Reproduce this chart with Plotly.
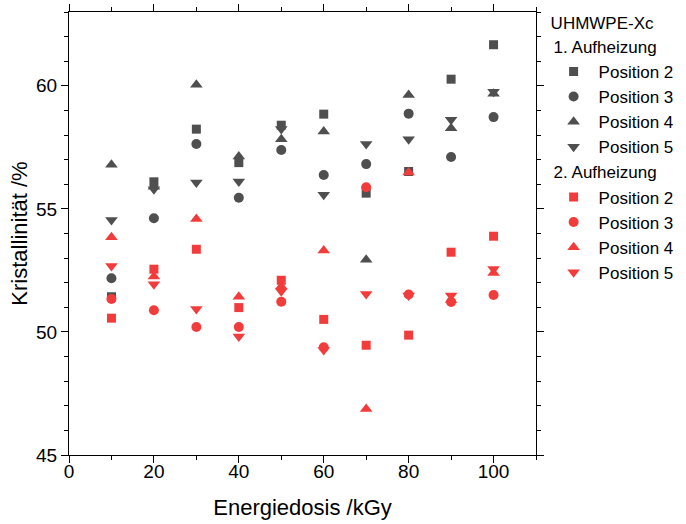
import plotly.graph_objects as go

dose = [10, 20, 30, 40, 50, 60, 70, 80, 90, 100]

# 1. Aufheizung
h1_pos2 = [51.43, 56.10, 58.24, 56.88, 58.40, 58.85, 55.64, 56.52, 60.27, 61.67]
h1_pos3 = [52.18, 54.62, 57.64, 55.45, 57.39, 56.38, 56.82, 58.87, 57.11, 58.73]
h1_pos4 = [56.79, 55.90, 60.04, 57.13, 57.83, 58.14, 52.93, 59.63, 58.28, 59.68]
h1_pos5 = [54.55, 55.80, 56.07, 56.11, 58.25, 55.57, 57.64, 57.83, 58.62, 59.76]

# 2. Aufheizung
h2_pos2 = [50.56, 52.55, 53.36, 50.99, 52.10, 50.51, 49.46, 49.87, 53.24, 53.89]
h2_pos3 = [51.34, 50.88, 50.20, 50.20, 51.23, 49.38, 55.88, 51.52, 51.22, 51.50]
h2_pos4 = [53.85, 52.25, 54.59, 51.43, 51.85, 53.31, 46.87, 56.48, 51.30, 52.40]
h2_pos5 = [52.68, 51.94, 50.93, 49.81, 51.65, 49.27, 51.54, 51.48, 51.48, 52.56]

names = ["Position 2", "Position 3", "Position 4", "Position 5"]
symbols = ["square", "circle", "triangle-up", "triangle-down"]
sizes = [9, 10, 11, 11]
dark = "#4F4F4F"
red = "#F23C3C"

fig = go.Figure()
groups = [
    ("g1", "1. Aufheizung", dark, [h1_pos2, h1_pos3, h1_pos4, h1_pos5]),
    ("g2", "2. Aufheizung", red, [h2_pos2, h2_pos3, h2_pos4, h2_pos5]),
]
for gid, gtitle, color, series in groups:
    for name, sym, sz, vals in zip(names, symbols, sizes, series):
        fig.add_trace(go.Scatter(
            x=dose, y=vals, mode="markers", name=name,
            legendgroup=gid,
            legendgrouptitle=dict(text=gtitle, font=dict(size=17, color="black")),
            marker=dict(symbol=sym, size=sz, color=color, line=dict(width=0)),
        ))

axis_common = dict(
    showline=True, linecolor="black", linewidth=1.3, mirror="allticks",
    ticks="outside", ticklen=7, tickwidth=1.3, tickcolor="black",
    showgrid=False, zeroline=False,
    tickfont=dict(size=19, color="black"),
)

fig.update_xaxes(
    range=[0, 110], dtick=20, tick0=0,
    minor=dict(dtick=10, ticks="outside", ticklen=4, tickwidth=1.3, tickcolor="black", showgrid=False),
    title=dict(text="Energiedosis /kGy", font=dict(size=22, color="black"), standoff=18),
    ticklabelstandoff=-8,
    automargin=False,
    **axis_common,
)
fig.update_yaxes(
    range=[45, 63], dtick=5, tick0=45,
    minor=dict(dtick=1, ticks="outside", ticklen=4, tickwidth=1.3, tickcolor="black", showgrid=False),
    title=dict(text="Kristallinität /%", font=dict(size=22, color="black"), standoff=2),
    automargin=False,
    **axis_common,
)

fig.update_layout(
    width=686, height=524,
    margin=dict(l=69, r=150, t=12, b=69, autoexpand=False),
    plot_bgcolor="white", paper_bgcolor="white",
    font=dict(family="Arial, Liberation Sans, sans-serif", color="black"),
    legend=dict(
        title=dict(text="UHMWPE-Xc", font=dict(size=17, color="black")),
        x=1.027, xanchor="left", y=1.012, yanchor="top",
        font=dict(size=17, color="black"),
        tracegroupgap=0, traceorder="grouped",
        itemwidth=40, bgcolor="rgba(0,0,0,0)",
        maxheight=500,
    ),
)

fig.write_html("out.html", config={"displayModeBar": False},
               post_script="document.body.style.margin='0px';")
